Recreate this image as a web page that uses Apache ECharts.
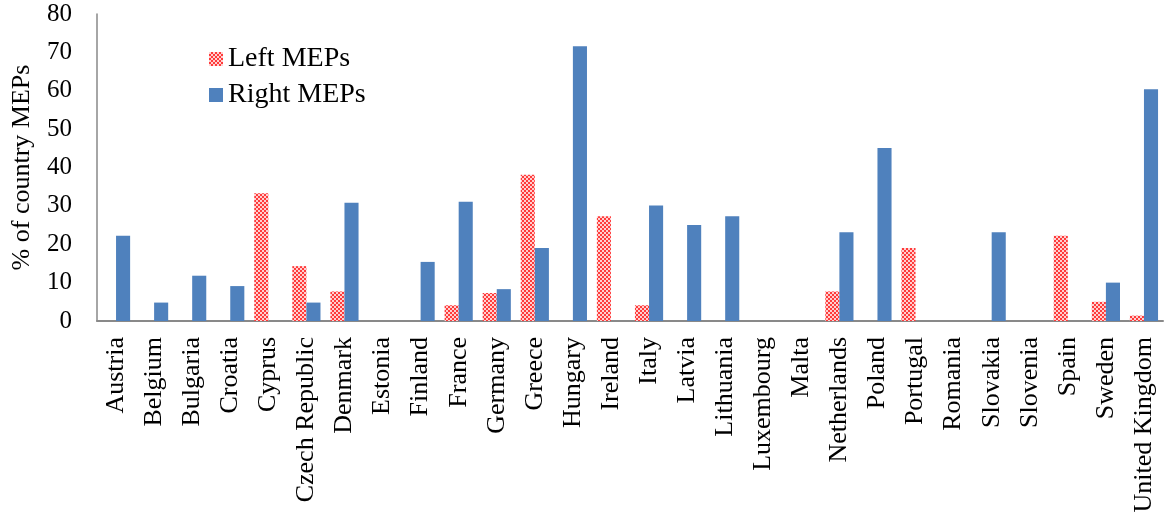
<!DOCTYPE html>
<html>
<head>
<meta charset="utf-8">
<script src="https://cdn.jsdelivr.net/npm/echarts@6/dist/echarts.min.js"></script>
<style>
html,body{margin:0;padding:0;background:#fff;}
#main{width:1168px;height:517px;}
</style>
</head>
<body>
<div id="main"></div>
<script>
var countries = ['Austria','Belgium','Bulgaria','Croatia','Cyprus','Czech Republic','Denmark','Estonia','Finland','France','Germany','Greece','Hungary','Ireland','Italy','Latvia','Lithuania','Luxembourg','Malta','Netherlands','Poland','Portugal','Romania','Slovakia','Slovenia','Spain','Sweden','United Kingdom'];
var leftMEPs = [0,0,0,0,33.3,14.3,7.7,0,0,4.1,7.3,38.1,0,27.3,4.1,0,0,0,0,7.7,0,19.0,0,0,0,22.2,5.0,1.4];
var rightMEPs = [22.2,4.8,11.8,9.1,0,4.8,30.8,0,15.4,31.1,8.3,19.0,71.6,0,30.1,25.0,27.3,0,0,23.1,45.1,0,0,23.1,0,0,10.0,60.4];
var yTicks = [0,10,20,30,40,50,60,70,80];

// checkered red fill
var pat = document.createElement('canvas');
pat.width = 4; pat.height = 4;
var ctx = pat.getContext('2d');
ctx.fillStyle = '#ff3b3b';
ctx.fillRect(0,0,4,4);
ctx.fillStyle = '#ffd0d0';
ctx.fillRect(0,0,2,2);
ctx.fillRect(2,2,2,2);

var font = 'Liberation Serif, Times New Roman, serif';
var myChart = echarts.init(document.getElementById('main'));
var option = {
    animation: false,
    textStyle: {fontFamily: font},
    grid: {left: 97, right: 5, top: 14, bottom: 196, containLabel: false, outerBoundsMode: 'none'},
    legend: {
        orient: 'vertical',
        left: 204,
        top: 40,
        itemWidth: 14,
        itemHeight: 14,
        itemGap: 8,
        icon: 'rect',
        textStyle: {fontFamily: font, fontSize: 28, color: '#000'},
        data: ['Left MEPs', 'Right MEPs']
    },
    xAxis: {
        type: 'category',
        data: countries,
        axisLine: {lineStyle: {color: '#898989', width: 2}},
        axisTick: {show: false},
        axisLabel: {rotate: 90, interval: 0, fontFamily: font, fontSize: 26, color: '#000', margin: 16}
    },
    yAxis: {
        type: 'value',
        min: yTicks[0],
        max: yTicks[yTicks.length - 1],
        interval: 10,
        name: '% of country MEPs',
        nameLocation: 'middle',
        nameGap: 62,
        nameTextStyle: {fontFamily: font, fontSize: 26, color: '#000'},
        splitLine: {show: false},
        axisLine: {show: true, lineStyle: {color: '#898989', width: 1.5}},
        axisTick: {show: false},
        axisLabel: {fontFamily: font, fontSize: 25, color: '#000', margin: 25}
    },
    series: [
        {
            name: 'Left MEPs',
            type: 'bar',
            data: leftMEPs,
            barGap: '0%',
            barCategoryGap: '26%',
            itemStyle: {color: {image: pat, repeat: 'repeat'}}
        },
        {
            name: 'Right MEPs',
            type: 'bar',
            data: rightMEPs,
            barGap: '0%',
            barCategoryGap: '26%',
            itemStyle: {color: '#4f81bd'}
        }
    ]
};
myChart.setOption(option);
</script>
</body>
</html>
